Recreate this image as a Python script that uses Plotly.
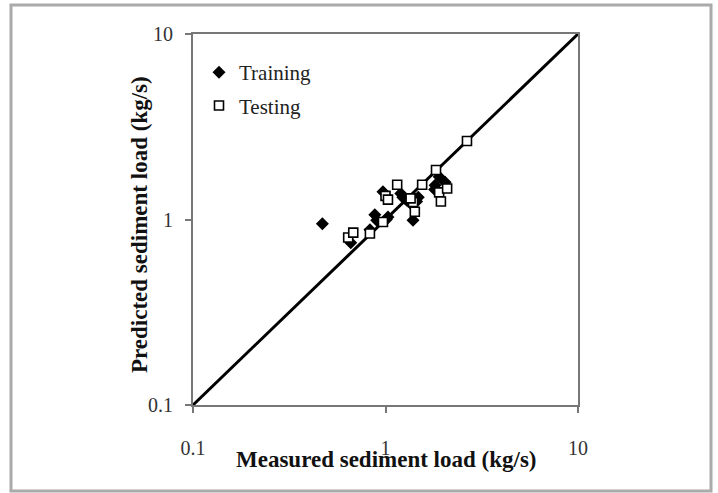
import plotly.graph_objects as go

# Data
train_x = [0.47, 0.66, 0.88, 0.90, 0.83, 1.03, 1.01, 0.97, 1.23, 1.29, 1.34, 1.25, 1.20, 1.39, 1.48, 1.45, 1.81, 2.04, 1.90, 1.80]
train_y = [0.95, 0.75, 1.06, 0.99, 0.88, 1.03, 1.00, 1.41, 1.32, 1.27, 1.23, 1.30, 1.38, 0.99, 1.32, 1.25, 1.53, 1.59, 1.70, 1.45]

test_x = [0.64, 0.68, 0.83, 1.00, 1.03, 1.15, 1.55, 1.39, 1.42, 1.83, 1.90, 2.09, 1.94, 2.65, 0.97, 1.35]
test_y = [0.80, 0.85, 0.84, 1.34, 1.28, 1.54, 1.54, 1.24, 1.10, 1.85, 1.40, 1.47, 1.25, 2.65, 0.97, 1.30]

line_x = [0.1, 10]
line_y = [0.1, 10]

tick_vals = [0.1, 1, 10]
tick_text = ["0.1", "1", "10"]

FONT = "Liberation Serif, Times New Roman, serif"

fig = go.Figure()
fig.add_trace(go.Scatter(x=line_x, y=line_y, mode="lines",
                         line=dict(color="black", width=3), showlegend=False, hoverinfo="skip"))
fig.add_trace(go.Scatter(x=train_x, y=train_y, mode="markers", name="Training",
                         legendgroup="a",
                         marker=dict(symbol="diamond", size=10, color="black",
                                     line=dict(width=0))))
fig.add_trace(go.Scatter(x=test_x, y=test_y, mode="markers", name="Testing",
                         legendgroup="b",
                         marker=dict(symbol="square", size=9, color="white",
                                     line=dict(color="black", width=1.6))))

W, H = 718, 493
L, R, T, B = 193, 140, 34, 88
pw, ph = W - L - R, H - T - B

def px(xp):
    return (xp - L) / pw

def py(yp):
    return (H - B - yp) / ph

axis_common = dict(type="log", range=[-1, 1], tickvals=tick_vals, ticktext=tick_text,
                   showgrid=False, zeroline=False, showline=True, linecolor="#777777",
                   linewidth=2, mirror=True, ticks="outside", ticklen=6, tickwidth=1.5,
                   tickcolor="#777777", tickfont=dict(family=FONT, size=20, color="#333333"))

fig.update_layout(
    width=W, height=H,
    margin=dict(l=L, r=R, t=T, b=B, pad=0),
    paper_bgcolor="white", plot_bgcolor="white",
    xaxis=dict(**axis_common, ticklabelstandoff=18),
    yaxis=dict(**axis_common, ticklabelstandoff=8),
    showlegend=True,
    legend=dict(x=px(199), y=py(52), xanchor="left", yanchor="top",
                bgcolor="rgba(0,0,0,0)", font=dict(family=FONT, size=21, color="#222222"),
                itemsizing="trace", traceorder="grouped", tracegroupgap=3),
    annotations=[
        dict(text="<b>Measured sediment load (kg/s)</b>", xref="paper", yref="paper",
             x=px(386), y=py(459), xanchor="center", yanchor="middle", showarrow=False,
             font=dict(family=FONT, size=23, color="#111111")),
        dict(text="<b>Predicted sediment load (kg/s)</b>", xref="paper", yref="paper",
             x=px(139), y=py(225), xanchor="center", yanchor="middle", showarrow=False,
             textangle=-90, font=dict(family=FONT, size=23, color="#111111")),
    ],
    shapes=[
        dict(type="rect", xref="paper", yref="paper",
             x0=px(11), x1=px(711), y0=py(491), y1=py(5),
             line=dict(color="#aaaaaa", width=3), fillcolor="rgba(0,0,0,0)", layer="below"),
    ],
)

fig.write_html("out.html")
